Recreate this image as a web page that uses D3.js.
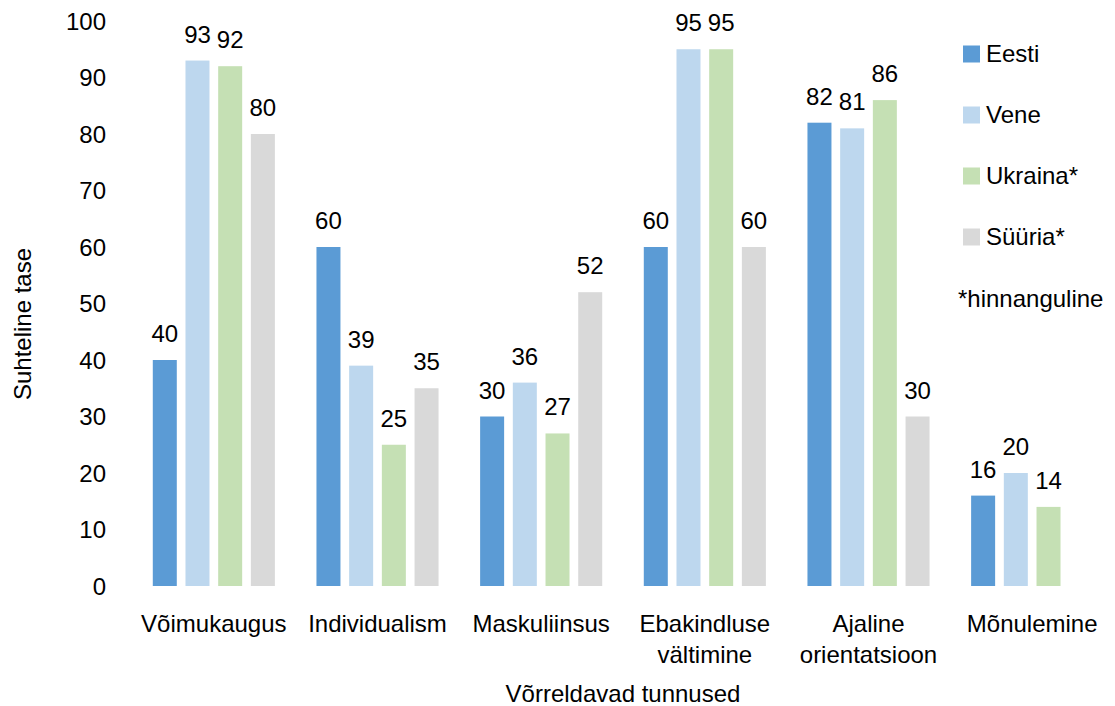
<!DOCTYPE html>
<html>
<head>
<meta charset="utf-8">
<script src="https://cdn.jsdelivr.net/npm/d3@7"></script>
<style>
  body { margin: 0; background: #fff; }
  svg text { font-family: "Liberation Sans", "DejaVu Sans", sans-serif; fill: #000; }
</style>
</head>
<body>
<div id="chart"></div>
<script>
var categories = [["Võimukaugus"], ["Individualism"], ["Maskuliinsus"], ["Ebakindluse", "vältimine"], ["Ajaline", "orientatsioon"], ["Mõnulemine"]];
var seriesNames = ["Eesti", "Vene", "Ukraina*", "Süüria*"];
var eesti = [40, 60, 30, 60, 82, 16];
var vene = [93, 39, 36, 95, 81, 20];
var ukraina = [92, 25, 27, 95, 86, 14];
var syyria = [80, 35, 52, 60, 30, null];
var yTicks = [0, 10, 20, 30, 40, 50, 60, 70, 80, 90, 100];
var colors = ["#5B9BD5", "#BDD7EE", "#C5E0B4", "#D9D9D9"];

var allSeries = [eesti, vene, ukraina, syyria];

var width = 1115, height = 706;
var fs = 24;
var svg = d3.select("#chart").append("svg")
  .attr("width", width)
  .attr("height", height);

var catKeys = categories.map(function(c){ return c.join(" "); });

var x = d3.scaleBand().domain(catKeys).range([132, 1114]).padding(0);
var xs = d3.scaleBand().domain(seriesNames).range([0, x.bandwidth()])
  .paddingInner(0.266).paddingOuter(0.636);
var y = d3.scaleLinear().domain([0, 100]).range([586, 21]);

// bars
var barData = [];
allSeries.forEach(function(vals, si){
  vals.forEach(function(v, ci){
    if (v !== null) barData.push({ cat: catKeys[ci], s: seriesNames[si], si: si, v: v });
  });
});

svg.append("g").selectAll("rect")
  .data(barData)
  .enter().append("rect")
  .attr("x", function(d){ return x(d.cat) + xs(d.s); })
  .attr("y", function(d){ return y(d.v); })
  .attr("width", xs.bandwidth())
  .attr("height", function(d){ return y(0) - y(d.v); })
  .attr("fill", function(d){ return colors[d.si]; });

// value labels
svg.append("g").selectAll("text")
  .data(barData)
  .enter().append("text")
  .attr("x", function(d){ return x(d.cat) + xs(d.s) + xs.bandwidth() / 2; })
  .attr("y", function(d){ return y(d.v) - 18; })
  .attr("text-anchor", "middle")
  .attr("font-size", fs)
  .text(function(d){ return d.v; });

// y axis
var yAxis = svg.append("g")
  .attr("transform", "translate(112,0)")
  .call(d3.axisLeft(y).tickValues(yTicks).tickSize(0).tickPadding(6));
yAxis.select(".domain").remove();
yAxis.selectAll("text").attr("font-size", fs).style("font-family", null).attr("dy", "0.35em");
yAxis.attr("font-family", null).attr("font-size", null);

// x axis labels
var xLab = svg.append("g").selectAll("text")
  .data(categories)
  .enter().append("text")
  .attr("x", function(d){ return x(d.join(" ")) + x.bandwidth() / 2; })
  .attr("y", 632)
  .attr("text-anchor", "middle")
  .attr("font-size", fs);
xLab.selectAll("tspan")
  .data(function(d){ return d; })
  .enter().append("tspan")
  .attr("x", function(){ return d3.select(this.parentNode).attr("x"); })
  .attr("dy", function(d, i){ return i === 0 ? 0 : 31; })
  .text(function(d){ return d; });

// axis titles
svg.append("text")
  .attr("transform", "translate(31,324) rotate(-90)")
  .attr("text-anchor", "middle")
  .attr("font-size", fs)
  .text("Suhteline tase");

svg.append("text")
  .attr("x", 623)
  .attr("y", 702)
  .attr("text-anchor", "middle")
  .attr("font-size", fs)
  .text("Võrreldavad tunnused");

// legend
var legend = svg.append("g").selectAll("g")
  .data(seriesNames)
  .enter().append("g")
  .attr("transform", function(d, i){ return "translate(963," + (54 + i * 61) + ")"; });
legend.append("rect")
  .attr("x", 0).attr("y", -8.5)
  .attr("width", 17).attr("height", 17)
  .attr("fill", function(d, i){ return colors[i]; });
legend.append("text")
  .attr("x", 23).attr("y", 0).attr("dy", "0.35em")
  .attr("font-size", fs)
  .text(function(d){ return d; });

svg.append("text")
  .attr("x", 958).attr("y", 299).attr("dy", "0.35em")
  .attr("font-size", fs)
  .text("*hinnanguline");
</script>
</body>
</html>
